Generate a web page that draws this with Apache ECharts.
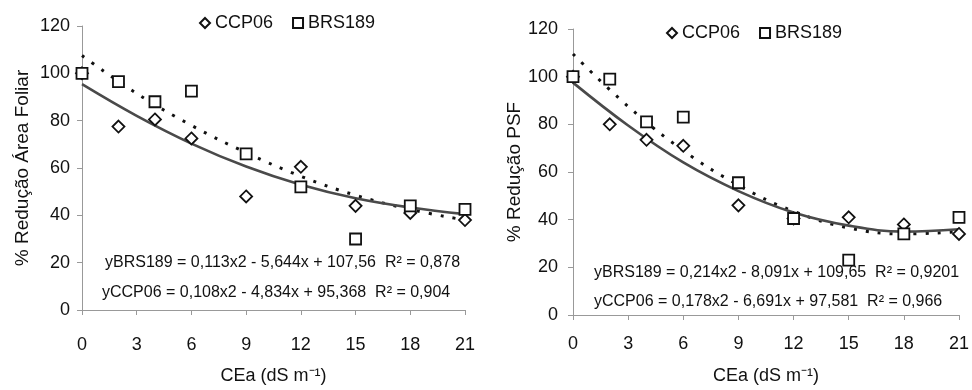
<!DOCTYPE html>
<html><head><meta charset="utf-8">
<script src="https://cdn.jsdelivr.net/npm/echarts@6/dist/echarts.min.js"></script>
<style>html,body{margin:0;padding:0;background:#fff}#c{width:972px;height:390px}</style>
</head><body><div id="c"></div>
<script>
// Measured x values (CEa, dS m-1)
const xVals = [0, 2, 4, 6, 9, 12, 15, 18, 21];
// Left panel: % Redução Área Foliar
const afCCP06 = [100, 77.5, 80.5, 72.5, 48, 60.5, 44, 41, 38];
const afBRS189 = [100, 96.5, 88, 92.5, 66, 52, 30, 44, 42.5];
// Right panel: % Redução PSF
const psfCCP06 = [100, 80, 73.5, 71, 46, 40.5, 41, 38, 34];
const psfBRS189 = [100, 99, 81, 83, 55.5, 40.5, 23, 34, 41];
// Trend curves
const trendX = [0, 3, 6, 9, 12, 15, 18, 21];
const afTrendCCP06 = [95.4, 82, 70.3, 60.6, 52.9, 47.2, 43.3, 40.5];
const afTrendBRS189 = [107.5, 91.5, 78, 66.5, 56.5, 48.5, 42.5, 38];
const psfTrendCCP06 = [97.5, 79.5, 64, 52, 43, 37.5, 35, 36];
const psfTrendBRS189 = [109.5, 87.5, 69, 54.5, 43.5, 36.5, 34, 35];
// Labels
const xTicks = { min: 0, max: 21, interval: 3 };
const yTicks = { min: 0, max: 120, interval: 20 };
const xName = 'CEa (dS m\u207B\u00B9)';
const yNameLeft = '% Redução Área Foliar';
const yNameRight = '% Redução PSF';
const eqLeft = ['yBRS189 = 0,113x2 - 5,644x + 107,56  R\u00B2 = 0,878', 'yCCP06 = 0,108x2 - 4,834x + 95,368  R\u00B2 = 0,904'];
const eqRight = ['yBRS189 = 0,214x2 - 8,091x + 109,65  R\u00B2 = 0,9201', 'yCCP06 = 0,178x2 - 6,691x + 97,581  R\u00B2 = 0,966'];

const FONT = '"Liberation Sans", Arial, sans-serif';
const TXT = '#111';
const diamond = 'path://M0,-1L1,0L0,1L-1,0Z';
const pairs = (xs, ys) => xs.map((x, i) => [x, ys[i]]);

function axes(idx, o) {
  return {
    x: {
      type: 'value', gridIndex: idx, min: xTicks.min, max: xTicks.max, interval: xTicks.interval,
      name: xName, nameLocation: 'middle', nameGap: o.xNameGap,
      nameTextStyle: { fontFamily: FONT, fontSize: 18, color: TXT },
      axisLine: { lineStyle: { color: '#999', width: 1 } },
      axisTick: { show: true, length: 5, lineStyle: { color: '#999' } },
      axisLabel: { fontFamily: FONT, fontSize: 18, color: TXT, margin: o.xMargin },
      splitLine: { show: false }
    },
    y: {
      type: 'value', gridIndex: idx, min: yTicks.min, max: yTicks.max, interval: yTicks.interval,
      name: idx === 0 ? yNameLeft : yNameRight, nameLocation: 'middle', nameGap: o.yNameGap,
      nameTextStyle: { fontFamily: FONT, fontSize: 19, color: TXT },
      axisLine: { show: true, lineStyle: { color: '#999', width: 1 } },
      axisTick: { show: true, length: 5, lineStyle: { color: '#999' } },
      axisLabel: { fontFamily: FONT, fontSize: 18, color: TXT, margin: o.yMargin },
      splitLine: { show: false }
    }
  };
}
const a0 = axes(0, { xNameGap: 57, xMargin: 26, yNameGap: 50, yMargin: 12 });
const a1 = axes(1, { xNameGap: 52, xMargin: 20, yNameGap: 49, yMargin: 15 });

function scatter(name, idx, data, sym) {
  return {
    type: 'scatter', name, xAxisIndex: idx, yAxisIndex: idx, data,
    symbol: sym, symbolSize: sym === 'rect' ? 11 : 12,
    itemStyle: { color: '#fff', borderColor: '#111', borderWidth: 1.8, opacity: 1 },
    z: 3
  };
}
function trend(idx, data, dotted) {
  return {
    type: 'line', xAxisIndex: idx, yAxisIndex: idx, data, smooth: 0.4, symbol: 'none',
    lineStyle: dotted ? { color: '#111', width: 3, type: [3, 9] } : { color: '#4a4a4a', width: 2.6 },
    silent: true, z: 2
  };
}
function legend(left, top) {
  return {
    left, top, data: ['CCP06', 'BRS189'], itemWidth: 10, itemHeight: 10, itemGap: 19,
    textStyle: { fontFamily: FONT, fontSize: 18, color: TXT }, selectedMode: false
  };
}
function eqText(x, y, s) {
  return { type: 'text', left: x, top: y, style: { text: s, font: '16px ' + FONT, fill: TXT } };
}

const chart = echarts.init(document.getElementById('c'));
chart.setOption({
  animation: false,
  backgroundColor: '#fff',
  grid: [
    { left: 82, right: 507, top: 26, bottom: 79 },
    { left: 573, right: 11, top: 29, bottom: 72 }
  ],
  legend: [legend(194, 9), legend(661, 19)],
  xAxis: [a0.x, a1.x],
  yAxis: [a0.y, a1.y],
  series: [
    trend(0, pairs(trendX, afTrendBRS189), true),
    trend(0, pairs(trendX, afTrendCCP06), false),
    scatter('CCP06', 0, pairs(xVals, afCCP06), diamond),
    scatter('BRS189', 0, pairs(xVals, afBRS189), 'rect'),
    trend(1, pairs(trendX, psfTrendBRS189), true),
    trend(1, pairs(trendX, psfTrendCCP06), false),
    scatter('CCP06', 1, pairs(xVals, psfCCP06), diamond),
    scatter('BRS189', 1, pairs(xVals, psfBRS189), 'rect')
  ],
  graphic: [
    eqText(105, 255, eqLeft[0]),
    eqText(102, 285, eqLeft[1]),
    eqText(594, 265, eqRight[0]),
    eqText(594, 294, eqRight[1])
  ]
});
</script></body></html>
